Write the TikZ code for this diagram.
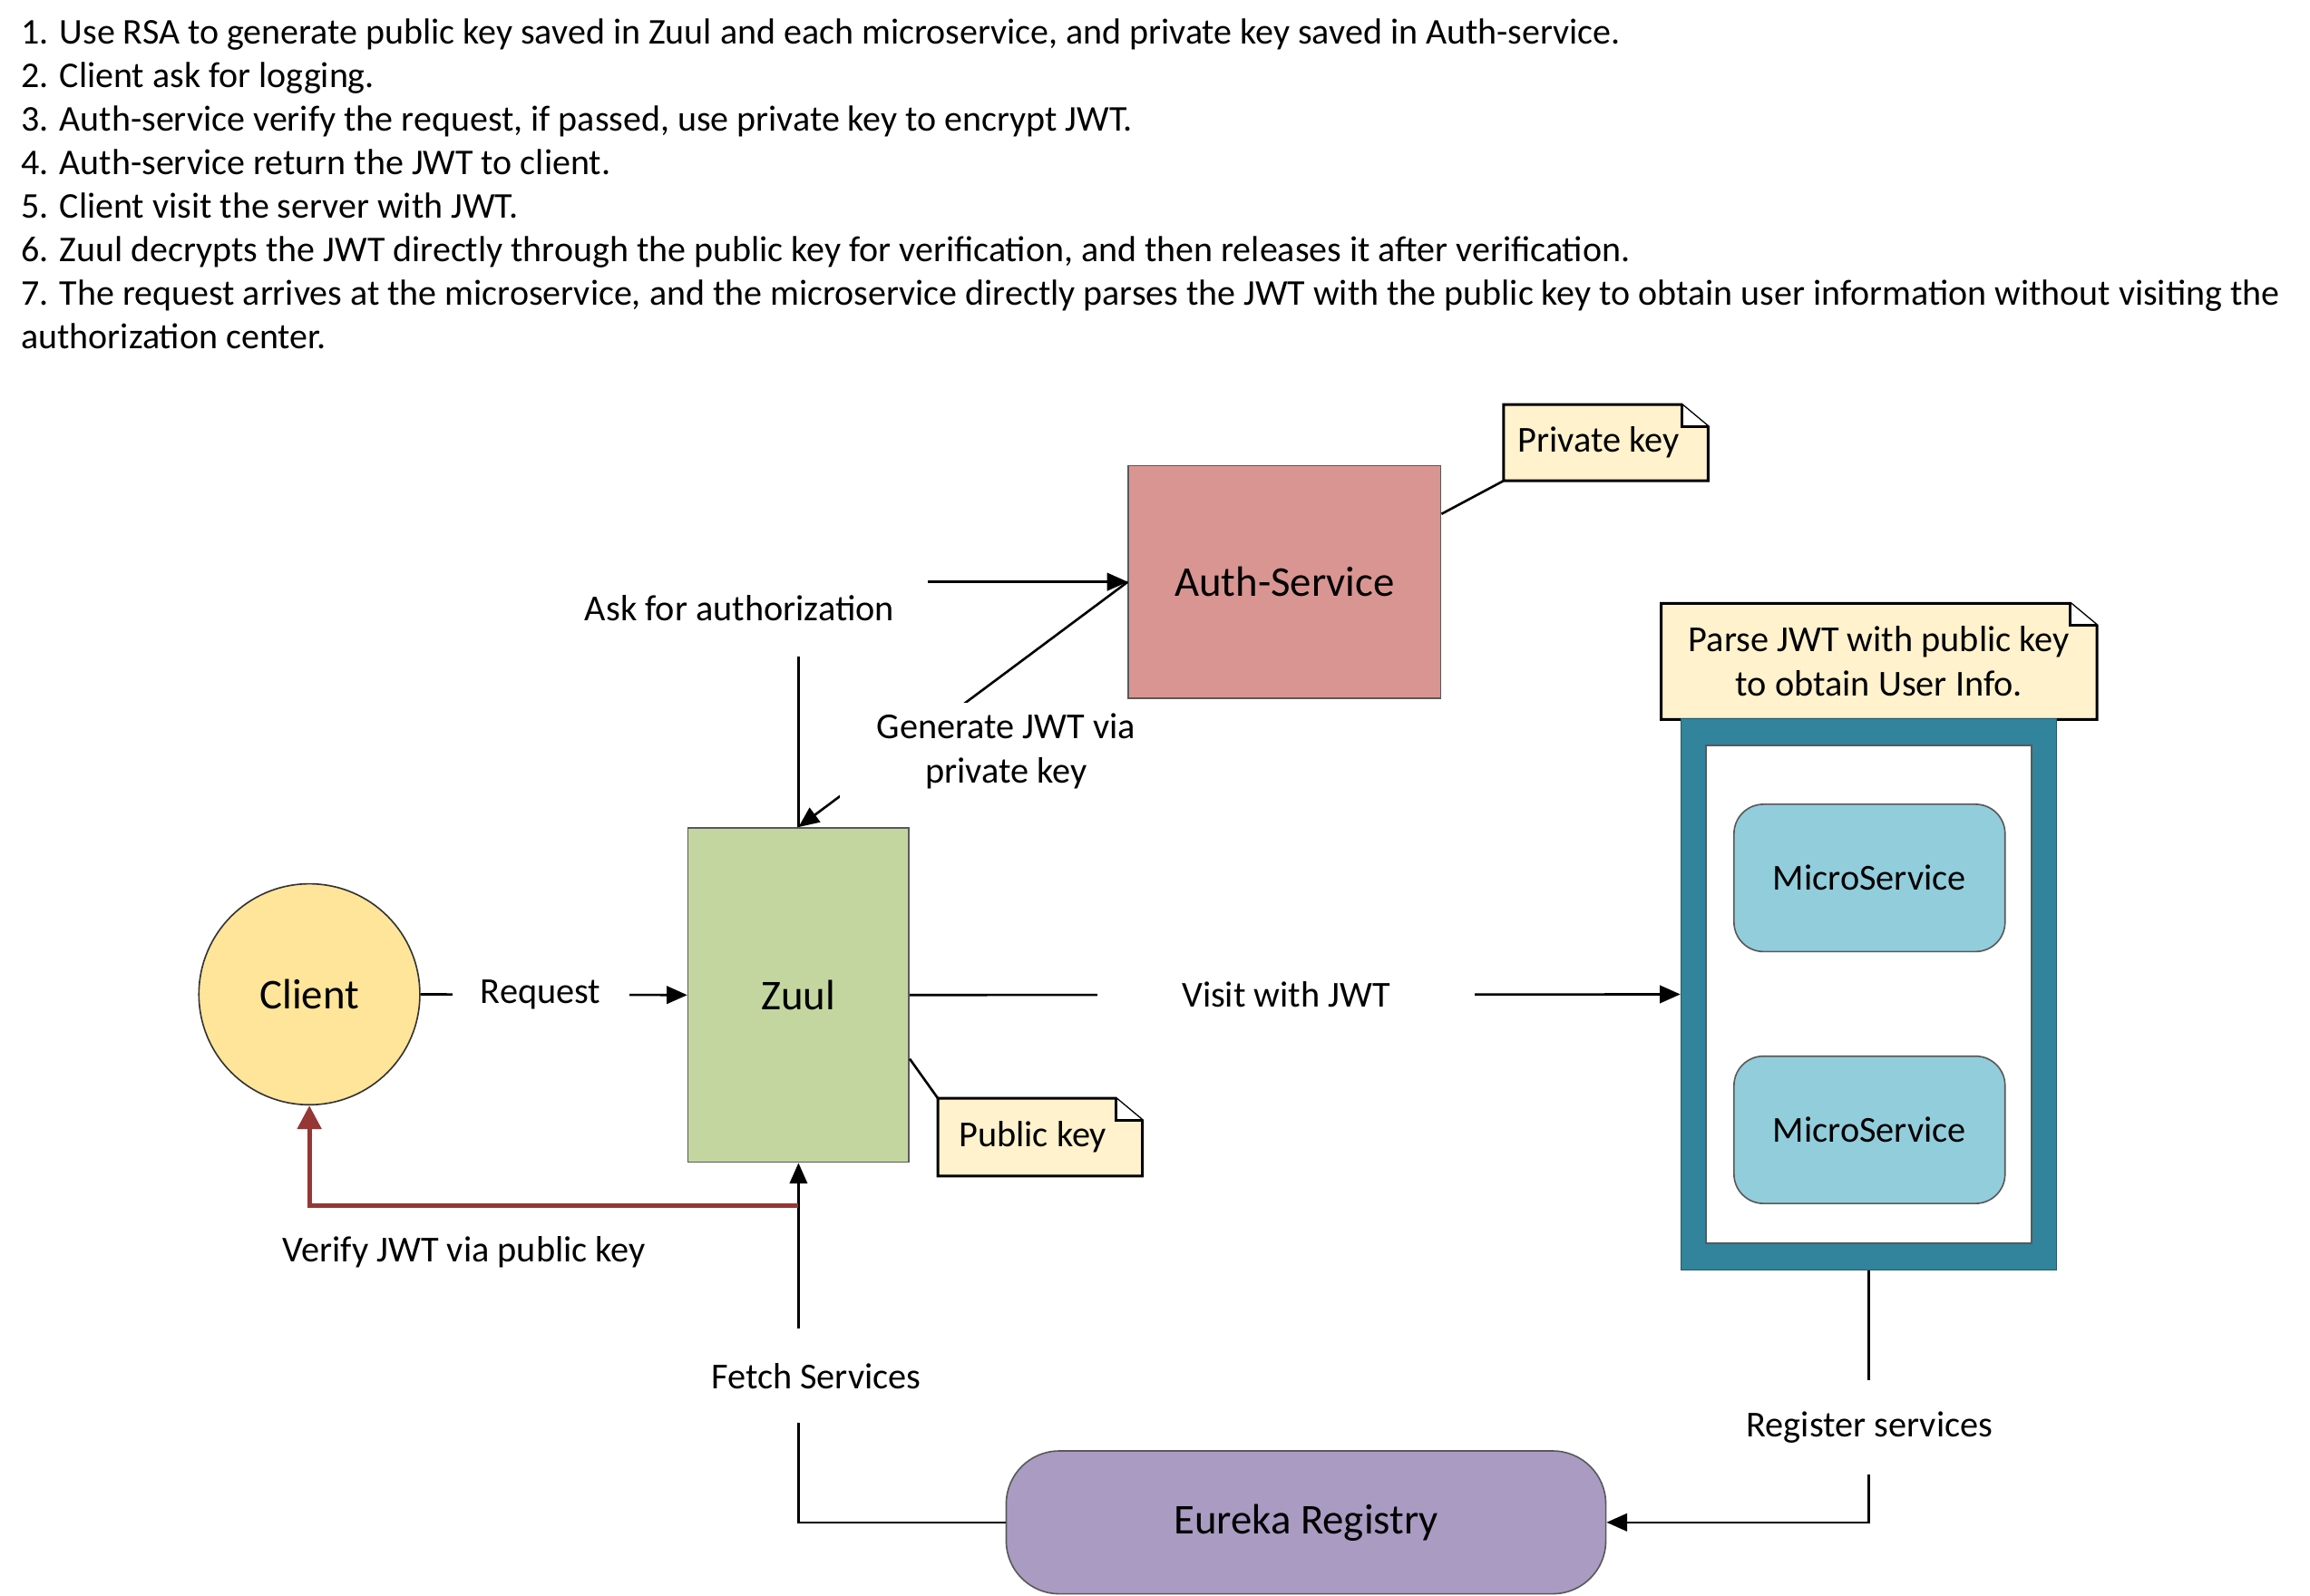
\documentclass[tikz,border=0pt]{standalone}
\usepackage{fontspec}
\setmainfont{Carlito}
\usetikzlibrary{arrows.meta,calc,backgrounds}
\definecolor{clientfill}{HTML}{FFE599}
\definecolor{zuulfill}{HTML}{C4D69F}
\definecolor{authfill}{HTML}{D99592}
\definecolor{notefill}{HTML}{FFF2CC}
\definecolor{tealfill}{HTML}{31849B}
\definecolor{msfill}{HTML}{92CDDC}
\definecolor{eurfill}{HTML}{AA9BC2}
\definecolor{redline}{HTML}{953735}
\definecolor{boxgray}{HTML}{595959}
\begin{document}
\begin{tikzpicture}[x=0.5pt,y=-0.5pt,
  line/.style={line width=0.8pt, draw=black},
  arr/.style={line, -{Triangle[length=7pt,width=6pt]}},
  redarr/.style={line width=1.6pt, draw=redline, -{Triangle[length=8pt,width=8pt]}},
  lbl/.style={font=\fontsize{12.4}{15}\selectfont, inner sep=0pt, align=center},
  cover/.style={lbl, fill=white},
  big/.style={font=\fontsize{14.4}{17}\selectfont},
  hdr/.style={font=\fontsize{12.3}{14.8}\selectfont, anchor=base west, inner sep=0pt},
  clientnode/.style={circle, big, fill=clientfill, draw=black!80, line width=0.5pt, minimum size=75pt, inner sep=0pt},
  zuulbox/.style={rectangle, big, fill=zuulfill, draw=boxgray, line width=0.5pt, minimum width=75pt, minimum height=113.5pt},
  authbox/.style={rectangle, big, fill=authfill, draw=boxgray, line width=0.5pt, minimum width=106pt, minimum height=79pt},
  outerbox/.style={rectangle, fill=tealfill, draw=tealfill!70!black, line width=0.4pt, minimum width=127.5pt, minimum height=187pt},
  innerbox/.style={rectangle, fill=white, draw=boxgray, line width=0.4pt, minimum width=110.5pt, minimum height=169pt},
  msbox/.style={rectangle, rounded corners=10pt, lbl, fill=msfill, draw=boxgray, line width=0.5pt, minimum width=92pt, minimum height=50pt},
  notetext/.style={lbl},
  notebd/.style={draw=black, line width=0.9pt, fill=notefill},
  eurbox/.style={rectangle, rounded corners=18pt, big, inner sep=0pt, fill=eurfill, draw=boxgray, line width=0.5pt, minimum width=203.5pt, minimum height=48.5pt}
]
\path[use as bounding box] (0,0) rectangle (1568,1082.9);

% header text
\node[hdr] (h1) at (14,30) {1. Use RSA to generate public key saved in Zuul and each microservice, and private key saved in Auth-service.};
\node[hdr] (h2) at (14,59.5) {2. Client ask for logging.};
\node[hdr] (h3) at (14,89) {3. Auth-service verify the request, if passed, use private key to encrypt JWT.};
\node[hdr] (h4) at (14,118.5) {4. Auth-service return the JWT to client.};
\node[hdr] (h5) at (14,148) {5. Client visit the server with JWT.};
\node[hdr] (h6) at (14,177.5) {6. Zuul decrypts the JWT directly through the public key for verification, and then releases it after verification.};
\node[hdr] (h7) at (14,207) {7. The request arrives at the microservice, and the microservice directly parses the JWT with the public key to obtain user information without visiting the};
\node[hdr] (h8) at (14,236.5) {authorization center.};

% main nodes
\node[clientnode] (client) at (210,675) {Client};
\node[zuulbox] (zuul) at (542,675.5) {Zuul};
\node[authbox] (auth) at (872,395) {Auth-Service};
\node[outerbox] (cont) at (1268.5,675) {};
\node[innerbox] (contin) at (1268.5,675) {};
\node[msbox] (ms1) at (1269,596) {MicroService};
\node[msbox] (ms2) at (1269,767) {MicroService};
\node[eurbox] (eur) at (886.5,1033.5) {Eureka Registry};

% notes
\node[notetext, minimum width=69pt, minimum height=25.5pt] (privnote) at (1090,300.5) {Private key\hspace*{5pt}};
\node[notetext, minimum width=69pt, minimum height=26pt] (pubnote) at (706,772) {Public key\hspace*{5pt}};
\node[notetext, minimum width=147.5pt, minimum height=39pt] (parsenote) at (1275.5,449) {Parse JWT with public key\\to obtain User Info.};

\begin{scope}[on background layer]
  \foreach \n in {privnote,pubnote,parsenote}{
    \draw[notebd] (\n.south west) -- (\n.north west) -- ([xshift=-9pt]\n.north east) -- ([yshift=-7.5pt]\n.north east) -- (\n.south east) -- cycle;
    \draw[notebd, fill=white] ([xshift=-9pt]\n.north east) -- ([xshift=-9pt,yshift=-7.5pt]\n.north east) -- ([yshift=-7.5pt]\n.north east);
  }
\end{scope}

% note connectors
\draw[line] ($(auth.north east)!0.21!(auth.south east)$) -- (privnote.south west);
\draw[line] ($(zuul.north east)!0.69!(zuul.south east)$) -- (pubnote.north west);

% connectors
\draw[arr] (client.east) -- (zuul.west);
\draw[arr] (zuul.east) -- (cont.west);
\draw[arr] (zuul.north) |- (auth.west);
\draw[arr] (auth.west) -- (zuul.north);
\draw[arr] (eur.west) -| (zuul.south);
\draw[arr] (cont.south) |- (eur.east);
\path (zuul.south) ++(0,29) coordinate (vj);
\draw[redarr] (vj) -| (client.south);

% labels
\node[cover, minimum width=60pt, minimum height=14pt] (lreq) at (367,675) {Request};
\node[cover, minimum width=128pt, minimum height=14pt] (lvis) at (873,675) {Visit with JWT};
\node[cover, minimum width=128pt, minimum height=33pt] (lask) at (502,413) {Ask for authorization};
\node[cover, minimum width=113pt, minimum height=33pt] (lgen) at (683,510) {Generate JWT via\\private key};
\node[cover, minimum width=80pt, minimum height=32pt] (lfetch) at (554,934) {Fetch Services};
\node[cover, minimum height=32pt] (lreg) at (1269,969) {Register services};
\node[lbl] (lver) at (315,850) {Verify JWT via public key};
\end{tikzpicture}
\end{document}
